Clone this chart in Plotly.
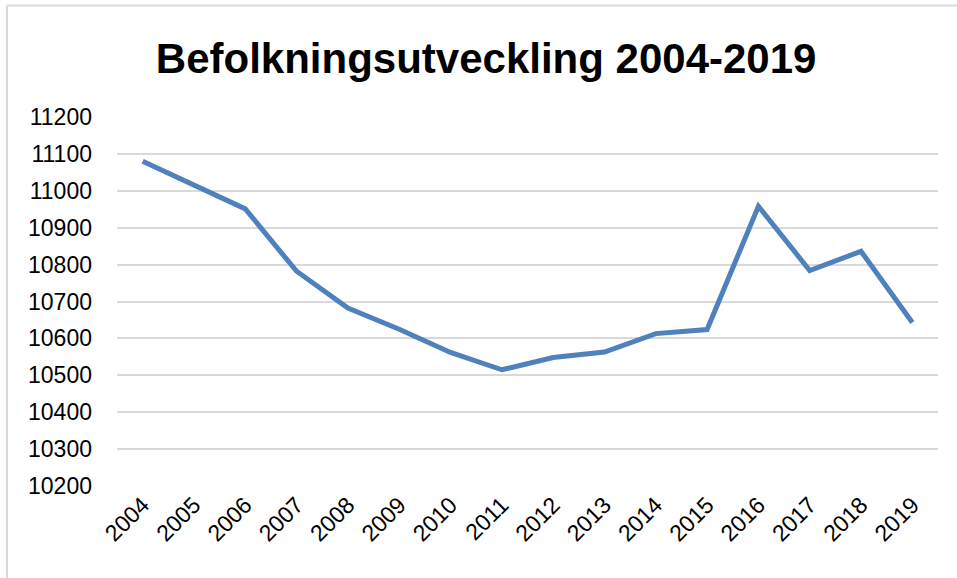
import plotly.graph_objects as go

# Befolkning per år
years = ["2004", "2005", "2006", "2007", "2008", "2009", "2010", "2011",
         "2012", "2013", "2014", "2015", "2016", "2017", "2018", "2019"]
population = [11080, 11017, 10951, 10782, 10682, 10625, 10562, 10515,
              10548, 10563, 10613, 10624, 10958, 10784, 10836, 10643]
y_ticks = [10200, 10300, 10400, 10500, 10600, 10700, 10800, 10900, 11000, 11100, 11200]

line_color = "#4F81BD"
grid_color = "#D9D9D9"

fig = go.Figure(go.Scatter(
    x=years,
    y=population,
    mode="lines",
    line=dict(color=line_color, width=5),
    hoverinfo="x+y",
))

fig.update_layout(
    width=957,
    height=578,
    margin=dict(l=117, r=19, t=117, b=92),
    paper_bgcolor="white",
    plot_bgcolor="white",
    font=dict(family="Liberation Sans, Arial, sans-serif", color="black"),
    showlegend=False,
    title=dict(
        text="<b>Befolkningsutveckling 2004-2019</b>",
        x=0.508, xanchor="center",
        y=0.9, yanchor="middle",
        font=dict(size=42, color="black"),
    ),
)

fig.update_xaxes(
    type="category",
    range=[-0.5, len(years) - 0.5],
    tickangle=-45,
    tickfont=dict(size=23),
    showgrid=False,
    showline=False,
    zeroline=False,
    ticks="",
)

fig.update_yaxes(
    range=[10200, 11200],
    tickvals=y_ticks,
    ticktext=[str(v) for v in y_ticks],
    tickfont=dict(size=23),
    showgrid=True,
    gridcolor=grid_color,
    gridwidth=1.5,
    zeroline=False,
    showline=False,
    ticks="",
    ticklabelstandoff=24,
)

# ram runt diagrammet (övre och vänster kant)
fig.add_shape(type="line", xref="paper", yref="paper",
              x0=-0.134, x1=1.03, y0=1.302, y1=1.302,
              line=dict(color=grid_color, width=2))
fig.add_shape(type="line", xref="paper", yref="paper",
              x0=-0.134, x1=-0.134, y0=1.302, y1=-0.3,
              line=dict(color=grid_color, width=2))

# ta bort sidans standardmarginal så att figuren börjar i hörnet
fig.write_html("out.html", config={"displayModeBar": False},
               post_script="document.body.style.margin='0px';")
